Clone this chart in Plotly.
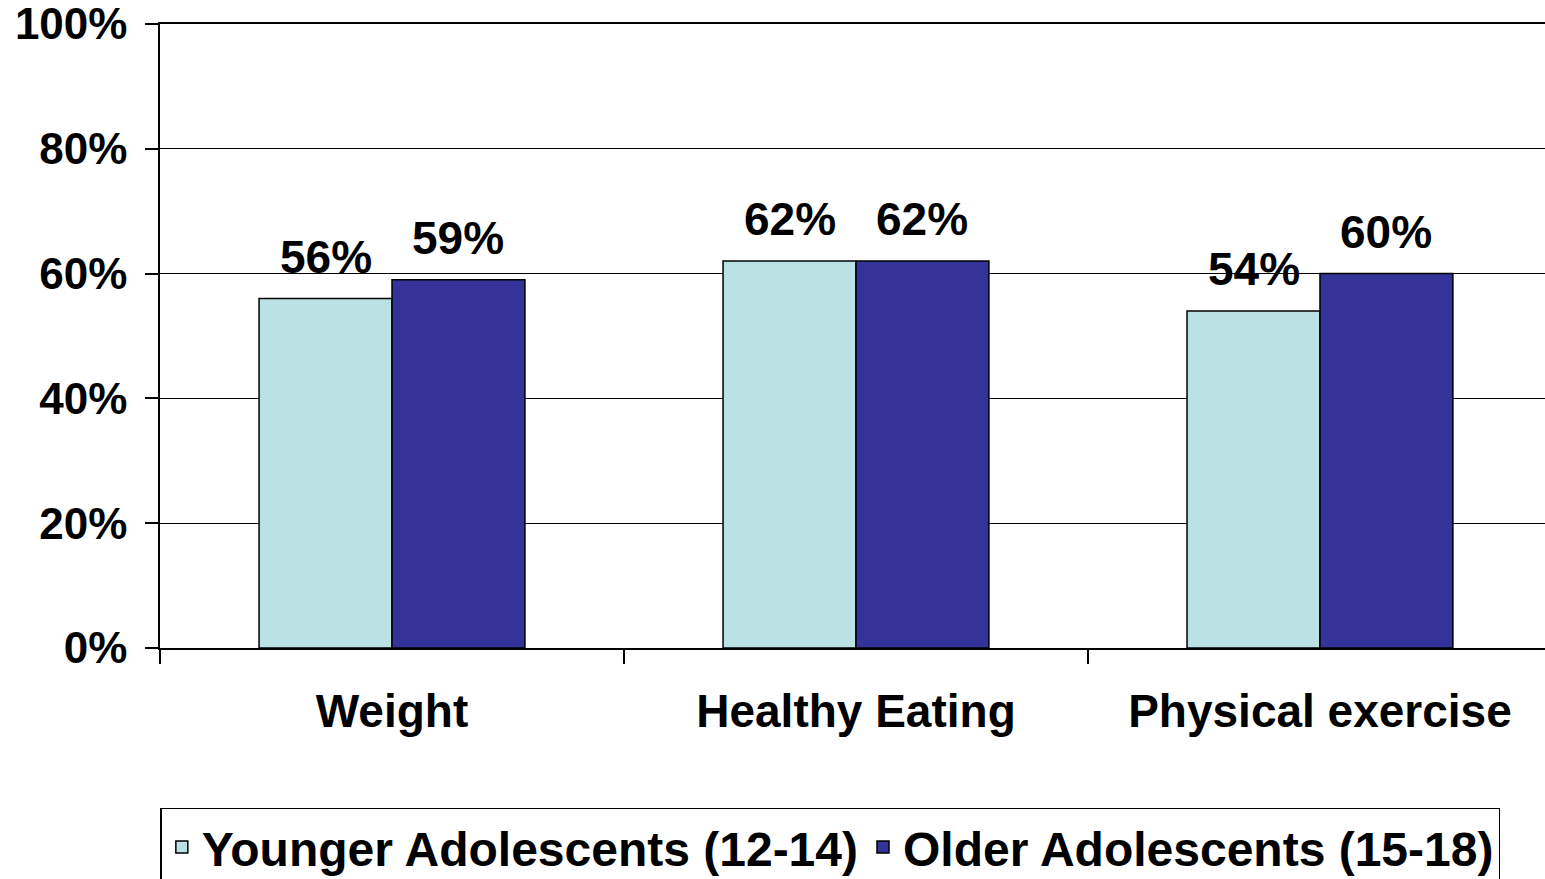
import plotly.graph_objects as go

categories = ["Weight", "Healthy Eating", "Physical exercise"]
younger = [56, 62, 54]
older = [59, 62, 60]
series_names = ["Younger Adolescents (12-14)", "Older Adolescents (15-18)"]
y_ticks = [0, 20, 40, 60, 80, 100]
y_tick_labels = ["0%", "20%", "40%", "60%", "80%", "100%"]

FONT = "Liberation Sans, Arial, sans-serif"
C_YOUNG = "#BAE1E3"
C_OLD = "#333399"

fig = go.Figure()
fig.add_trace(go.Bar(x=categories, y=younger, name=series_names[0],
                     marker=dict(color=C_YOUNG, line=dict(color="black", width=1.5))))
fig.add_trace(go.Bar(x=categories, y=older, name=series_names[1],
                     marker=dict(color=C_OLD, line=dict(color="black", width=1.5))))

bargap = 0.427
half = (1 - bargap) / 4
annotations = []
for i, (a, b) in enumerate(zip(younger, older)):
    for off, v in ((-half, a), (half, b)):
        annotations.append(dict(x=i + off, y=v, xref="x", yref="y", text=f"<b>{v}%</b>",
                                showarrow=False, yshift=42, yanchor="middle",
                                font=dict(family=FONT, size=46, color="black")))

fig.update_layout(
    width=1545, height=879,
    margin=dict(l=160, r=0, t=24, b=231, autoexpand=False),
    paper_bgcolor="white", plot_bgcolor="white",
    barmode="group", bargap=bargap, bargroupgap=0,
    font=dict(family=FONT, size=46, color="black"),
    showlegend=True,
    legend=dict(orientation="h", x=0.484, xanchor="center", y=-0.256, yanchor="top",
                bordercolor="black", borderwidth=1.5, bgcolor="white",
                font=dict(family=FONT, size=48, color="black", weight="bold"),
                traceorder="normal"),
    annotations=annotations,
)
fig.update_xaxes(range=[-0.5, 2.485], showline=True, mirror=True, linecolor="black", linewidth=1.5,
                 ticks="outside", ticklen=14, tickcolor="black", tickwidth=1.5,
                 tickson="boundaries", showgrid=False, ticklabelstandoff=22,
                 automargin=False,
                 tickfont=dict(family=FONT, size=46, color="black", weight="bold"))
fig.update_yaxes(range=[0, 100], tickvals=y_ticks, ticktext=y_tick_labels,
                 showline=True, linecolor="black", linewidth=1.5,
                 ticks="outside", ticklen=13, tickcolor="black", tickwidth=1.5,
                 showgrid=True, gridcolor="black", gridwidth=1.2, zeroline=False,
                 ticklabelstandoff=9, automargin=False, ticklabeloverflow="allow",
                 tickfont=dict(family=FONT, size=44, color="black", weight="bold"))

fig.write_html("out.html", config={"displayModeBar": False},
               post_script="document.body.style.margin='0px';document.body.style.overflow='hidden';")
